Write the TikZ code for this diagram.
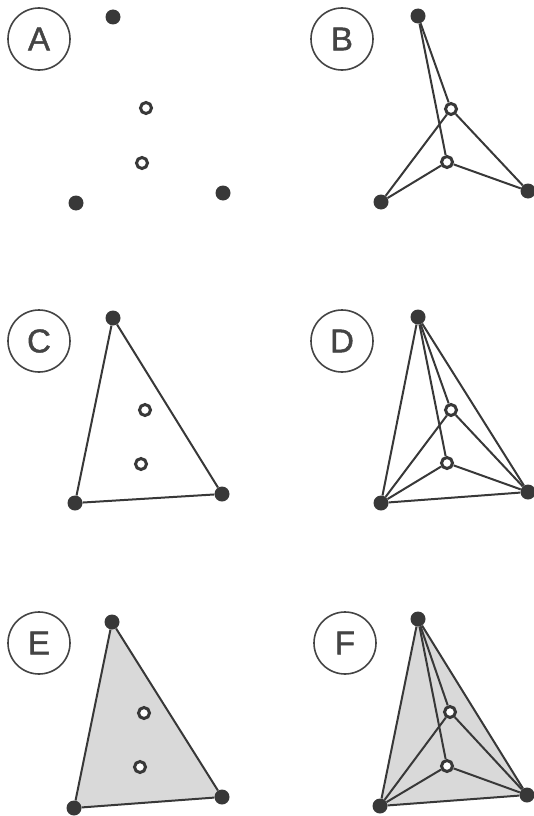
\documentclass[tikz,border=0pt]{standalone}
\usepackage{fontspec}
\setmainfont{Liberation Sans}
\newfontfamily\labfont[FakeBold=1.3]{Liberation Sans}
\definecolor{ink}{HTML}{383838}
\definecolor{lab}{HTML}{444444}
\definecolor{shade}{HTML}{D9D9D9}
\tikzset{
  fdot/.style={circle,fill=ink,inner sep=0pt,minimum size=15pt},
  odot/.style={circle,draw=ink,line width=3pt,fill=white,inner sep=0pt,minimum size=11pt},
  edge/.style={draw=ink,line width=2pt},
  labcirc/.style={circle,draw=lab,line width=1.6pt,minimum size=62pt,inner sep=0pt,text=lab,
    font=\labfont\fontsize{33}{33}\selectfont},
  tri/.style={fill=shade}
}
\begin{document}
\begin{tikzpicture}[x=1pt,y=-1pt]
\useasboundingbox (0,0) rectangle (534,816);
% ---------- A ----------
\node[labcirc] (LA) at (39,39) {A};
\node[fdot] (At) at (113,17) {};
\node[fdot] (Al) at (76,203) {};
\node[fdot] (Ar) at (223,193) {};
\node[odot] (Ao) at (146,108) {};
\node[odot] (Au) at (142,163) {};
% ---------- B ----------
\node[labcirc] (LB) at (342,39) {B};
\node[fdot] (Bt) at (418,16) {};
\node[fdot] (Bl) at (381,202) {};
\node[fdot] (Br) at (528,191) {};
\node[odot] (Bo) at (451,109) {};
\node[odot] (Bu) at (447,162) {};
\draw[edge] (Bt) -- (Bo); \draw[edge] (Bt) -- (Bu);
\draw[edge] (Bl) -- (Bo); \draw[edge] (Bl) -- (Bu);
\draw[edge] (Br) -- (Bo); \draw[edge] (Br) -- (Bu);
% ---------- C ----------
\node[labcirc] (LC) at (39,341) {C};
\node[fdot] (Ct) at (113,318) {};
\node[fdot] (Cl) at (75,503) {};
\node[fdot] (Cr) at (222,494) {};
\node[odot] (Co) at (145,410) {};
\node[odot] (Cu) at (141,464) {};
\draw[edge] (Ct) -- (Cl); \draw[edge] (Cl) -- (Cr); \draw[edge] (Cr) -- (Ct);
% ---------- D ----------
\node[labcirc] (LD) at (342,341) {D};
\node[fdot] (Dt) at (418,317) {};
\node[fdot] (Dl) at (381,503) {};
\node[fdot] (Dr) at (528,492) {};
\node[odot] (Do) at (451,410) {};
\node[odot] (Du) at (447,463) {};
\draw[edge] (Dt) -- (Dl); \draw[edge] (Dl) -- (Dr); \draw[edge] (Dr) -- (Dt);
\draw[edge] (Dt) -- (Do); \draw[edge] (Dt) -- (Du);
\draw[edge] (Dl) -- (Do); \draw[edge] (Dl) -- (Du);
\draw[edge] (Dr) -- (Do); \draw[edge] (Dr) -- (Du);
% ---------- E ----------
\coordinate (Etc) at (112,622);
\coordinate (Elc) at (74,808);
\coordinate (Erc) at (222,797);
\fill[tri] (Etc) -- (Elc) -- (Erc) -- cycle;
\node[labcirc] (LE) at (39,643) {E};
\node[fdot] (Et) at (Etc) {};
\node[fdot] (El) at (Elc) {};
\node[fdot] (Er) at (Erc) {};
\node[odot] (Eo) at (144,713) {};
\node[odot] (Eu) at (140,767) {};
\draw[edge] (Et) -- (El); \draw[edge] (El) -- (Er); \draw[edge] (Er) -- (Et);
% ---------- F ----------
\coordinate (Ftc) at (418,619);
\coordinate (Flc) at (380,806);
\coordinate (Frc) at (527,795);
\fill[tri] (Ftc) -- (Flc) -- (Frc) -- cycle;
\node[labcirc] (LF) at (345,643) {F};
\node[fdot] (Ft) at (Ftc) {};
\node[fdot] (Fl) at (Flc) {};
\node[fdot] (Fr) at (Frc) {};
\node[odot] (Fo) at (450,712) {};
\node[odot] (Fu) at (447,766) {};
\draw[edge] (Ft) -- (Fl); \draw[edge] (Fl) -- (Fr); \draw[edge] (Fr) -- (Ft);
\draw[edge] (Ft) -- (Fo); \draw[edge] (Ft) -- (Fu);
\draw[edge] (Fl) -- (Fo); \draw[edge] (Fl) -- (Fu);
\draw[edge] (Fr) -- (Fo); \draw[edge] (Fr) -- (Fu);
\end{tikzpicture}
\end{document}
